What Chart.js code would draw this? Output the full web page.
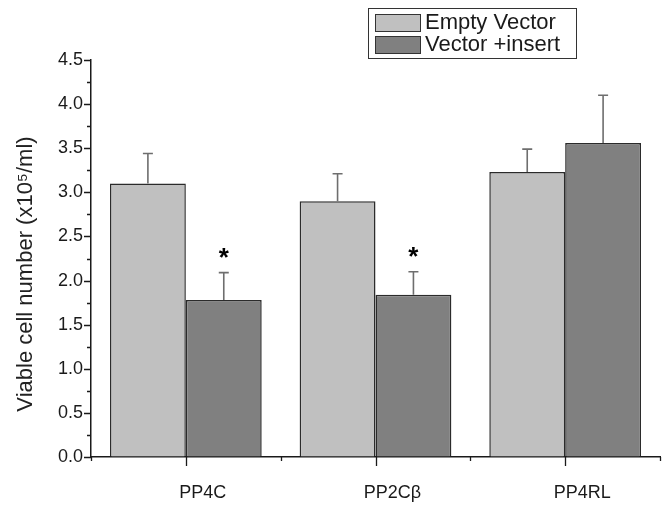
<!DOCTYPE html>
<html>
<head>
<meta charset="utf-8">
<script src="https://cdn.jsdelivr.net/npm/chart.js@4.4.0/dist/chart.umd.min.js"></script>
<style>
  html, body { margin: 0; padding: 0; background: #fff; }
  #wrap { width: 667px; height: 519px; }
</style>
</head>
<body>
<div id="wrap"><canvas id="chart" width="667" height="519"></canvas></div>
<script>
// ---- data ----
const categories = ["PP4C", "PP2C\u03B2", "PP4RL"];
const emptyVector = [3.10, 2.90, 3.23];
const emptyVectorErr = [0.34, 0.31, 0.26];
const vectorInsert = [1.78, 1.84, 3.56];
const vectorInsertErr = [0.31, 0.26, 0.54];
const starAt = [2.31, 2.32, null]; // "*" significance marks over Vector +insert
const yMax = 4.5;
const yMajorStep = 0.5;
const yMinorStep = 0.25;
const yTitle = "Viable cell number (x10\u2075/ml)";

const FONT = "'Liberation Sans', Arial, sans-serif";
const INK = "#1a1a1a";

// ---- tick marks outside the axes (major + minor) ----
const axisTicks = {
  id: "axisTicks",
  afterDraw(chart) {
    const { ctx } = chart;
    const x = chart.scales.x, y = chart.scales.y;
    ctx.save();
    ctx.strokeStyle = INK;
    ctx.lineWidth = 1.3;
    ctx.beginPath();
    for (let v = 0; v <= yMax + 1e-9; v += yMinorStep) {
      const py = Math.round(y.getPixelForValue(v)) + 0.5;
      const major = Math.abs(v / yMajorStep - Math.round(v / yMajorStep)) < 1e-6;
      const len = major ? 7 : 4;
      ctx.moveTo(y.right - len, py);
      ctx.lineTo(y.right, py);
    }
    for (let i = 0; i < categories.length; i++) {
      const px = Math.round(x.getPixelForValue(i)) + 0.5;
      ctx.moveTo(px, x.top);
      ctx.lineTo(px, x.top + 9);
    }
    for (let i = 0; i <= categories.length; i++) {
      const px = Math.round(x.getPixelForValue(i - 0.5)) + 0.5;
      ctx.moveTo(px, x.top);
      ctx.lineTo(px, x.top + 4);
    }
    ctx.stroke();

    // y axis title (drawn here so it can sit where the original has it)
    ctx.translate(26, 274);
    ctx.rotate(-Math.PI / 2);
    ctx.fillStyle = "#222";
    ctx.font = "22px " + FONT;
    ctx.textAlign = "center";
    ctx.textBaseline = "middle";
    ctx.fillText(yTitle, 0, 0);
    ctx.restore();
  }
};

// ---- upper error bars + stars ----
const errorBars = {
  id: "errorBars",
  afterDatasetsDraw(chart) {
    const { ctx } = chart;
    const y = chart.scales.y;
    const errs = [emptyVectorErr, vectorInsertErr];
    ctx.save();
    ctx.strokeStyle = "#6e6e6e";
    ctx.lineWidth = 1.6;
    chart.data.datasets.forEach((ds, di) => {
      const meta = chart.getDatasetMeta(di);
      meta.data.forEach((bar, i) => {
        const top = y.getPixelForValue(ds.data[i] + errs[di][i]);
        ctx.beginPath();
        ctx.moveTo(bar.x, bar.y);
        ctx.lineTo(bar.x, top);
        ctx.moveTo(bar.x - 5, top);
        ctx.lineTo(bar.x + 5, top);
        ctx.stroke();
      });
    });
    ctx.fillStyle = "#000";
    ctx.font = "bold 26px " + FONT;
    ctx.textAlign = "center";
    ctx.textBaseline = "middle";
    const meta1 = chart.getDatasetMeta(1);
    starAt.forEach((v, i) => {
      if (v == null) return;
      ctx.fillText("*", meta1.data[i].x, y.getPixelForValue(v) + 6);
    });
    ctx.restore();
  }
};

// ---- boxed legend, top right ----
const boxLegend = {
  id: "boxLegend",
  afterDraw(chart) {
    const { ctx } = chart;
    const bx = 368, by = 8, bw = 208, bh = 50;
    ctx.save();
    ctx.strokeStyle = "#333";
    ctx.lineWidth = 1;
    ctx.strokeRect(bx + 0.5, by + 0.5, bw, bh);
    ctx.font = "22px " + FONT;
    ctx.textBaseline = "middle";
    chart.data.datasets.forEach((ds, i) => {
      const sy = by + 6 + i * 22;
      ctx.fillStyle = ds.backgroundColor;
      ctx.fillRect(bx + 7, sy, 45, 17);
      ctx.strokeStyle = "#333";
      ctx.strokeRect(bx + 7.5, sy + 0.5, 45, 17);
      ctx.fillStyle = INK;
      ctx.fillText(ds.label, bx + 57, sy + 9);
    });
    ctx.restore();
  }
};

new Chart(document.getElementById("chart"), {
  type: "bar",
  data: {
    labels: categories,
    datasets: [
      {
        label: "Empty Vector",
        data: emptyVector,
        backgroundColor: "#c0c0c0",
        borderColor: "#2b2b2b",
        borderWidth: 1.5,
        categoryPercentage: 0.8,
        barPercentage: 1.0,
      },
      {
        label: "Vector +insert",
        data: vectorInsert,
        backgroundColor: "#808080",
        borderColor: "#2b2b2b",
        borderWidth: 1.5,
        categoryPercentage: 0.8,
        barPercentage: 1.0,
      },
    ],
  },
  options: {
    responsive: false,
    animation: false,
    layout: { padding: { top: 60, right: 7, left: 0, bottom: 0 } },
    plugins: {
      legend: { display: false },
      tooltip: { enabled: false },
    },
    scales: {
      x: {
        offset: true,
        grid: { display: true, drawOnChartArea: false, drawTicks: false },
        border: { color: INK, width: 1.5 },
        ticks: {
          color: INK,
          font: { family: FONT, size: 18 },
          padding: 25,
          labelOffset: 17,
        },
        afterFit: (s) => { s.height = 62; },
      },
      y: {
        min: 0,
        max: yMax,
        grid: { display: true, drawOnChartArea: false, drawTicks: false },
        border: { color: INK, width: 1.5 },
        ticks: {
          stepSize: yMajorStep,
          color: INK,
          font: { family: FONT, size: 18 },
          padding: 8,
          callback: (v) => Number(v).toFixed(1),
        },
        title: { display: false },
        afterFit: (s) => { s.width = 91; },
      },
    },
  },
  plugins: [axisTicks, errorBars, boxLegend],
});
</script>
</body>
</html>
